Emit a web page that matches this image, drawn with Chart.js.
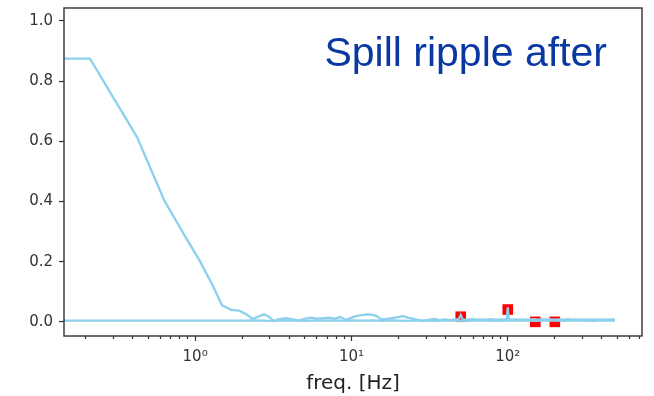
<!DOCTYPE html>
<html>
<head>
<meta charset="utf-8">
<script src="https://cdn.jsdelivr.net/npm/chart.js@4/dist/chart.umd.min.js"></script>
<style>
  html, body { margin: 0; padding: 0; background: #ffffff; }
  #wrap { width: 654px; height: 396px; }
</style>
</head>
<body>
<div id="wrap"><canvas id="c" width="654" height="396"></canvas></div>
<script>
// ---- data ----
const freqA = [0.1, 0.2125, 0.425, 0.6375, 0.85, 1.0625, 1.275, 1.4875, 1.7, 1.9125,
  2.125, 2.3375, 2.55, 2.7625, 2.975, 3.1875, 3.4, 3.8, 4.2, 4.6,
  5.0, 5.5, 6.0, 6.6, 7.2, 7.8, 8.5, 9.2, 10.0, 10.8,
  11.6, 12.5, 13.4, 14.4, 15.5, 16.8, 18.2, 19.8, 21.4, 23.0,
  25.0, 27.0, 29.0, 31.5, 34.0, 37.0, 40.0, 43.0, 46.0, 48.5,
  50.0, 51.5, 55.0, 59.0, 63.0, 68.0, 73.0, 78.0, 84.0, 90.0,
  95.0, 98.5, 100.0, 101.5, 106.0, 112.0, 120.0, 128.0, 136.0, 145.0,
  155.0, 165.0, 176.0, 188.0, 200.0, 213.0, 227.0, 242.0, 258.0, 275.0,
  293.0, 312.0, 333.0, 355.0, 378.0, 403.0, 430.0, 457.0, 485.0];
const ampA = [0.875, 0.875, 0.614, 0.402, 0.29, 0.206, 0.128, 0.055, 0.040, 0.037,
  0.025, 0.010, 0.018, 0.025, 0.017, 0.002, 0.008, 0.012, 0.008, 0.004,
  0.010, 0.014, 0.011, 0.012, 0.014, 0.011, 0.016, 0.006, 0.014, 0.020,
  0.022, 0.025, 0.024, 0.020, 0.009, 0.010, 0.012, 0.016, 0.019, 0.014,
  0.010, 0.006, 0.003, 0.007, 0.010, 0.006, 0.008, 0.006, 0.008, 0.009,
  0.023, 0.008, 0.007, 0.009, 0.007, 0.008, 0.007, 0.009, 0.007, 0.008,
  0.007, 0.009, 0.048, 0.009, 0.007, 0.008, 0.007, 0.008, 0.007, 0.009,
  0.007, 0.008, 0.007, 0.008, 0.007, 0.008, 0.007, 0.009, 0.007, 0.008,
  0.007, 0.008, 0.007, 0.008, 0.007, 0.008, 0.007, 0.008, 0.007];

const freqB = [0.1, 0.5, 1.0, 1.5, 2.0, 2.5, 3.0, 3.5, 4.0, 4.5,
  5.0, 6.0, 7.0, 8.0, 9.0, 10.0, 12.0, 14.0, 16.0, 18.0,
  20.0, 23.0, 26.0, 30.0, 35.0, 40.0, 45.0, 55.0, 65.0, 75.0,
  85.0, 110.0, 130.0, 150.0, 175.0, 200.0, 230.0, 260.0, 300.0, 350.0,
  400.0, 450.0, 485.0];
const ampB = [0.004, 0.004, 0.004, 0.004, 0.004, 0.005, 0.003, 0.005, 0.004, 0.005,
  0.003, 0.005, 0.004, 0.005, 0.003, 0.005, 0.004, 0.005, 0.003, 0.005,
  0.004, 0.003, 0.005, 0.004, 0.003, 0.005, 0.004, 0.003, 0.005, 0.004,
  0.003, 0.005, 0.004, 0.003, 0.005, 0.004, 0.003, 0.005, 0.004, 0.003,
  0.005, 0.004, 0.004];

const harmFreq = [50, 100, 150, 200];
const harmAmp = [0.017, 0.041, 0.0, 0.0];

const yTickValues = [0.0, 0.2, 0.4, 0.6, 0.8, 1.0];
const xMajorTicks = [1, 10, 100];
const xMajorLabels = ['10\u2070', '10\u00B9', '10\u00B2'];
const xDecades = [0.1, 1, 10, 100];
const xMultipliers = [1, 2, 3, 4, 5, 6, 7, 8, 9];

const titleText = 'Spill ripple after';
const xTitle = 'freq. [Hz]';

// ---- build ----
const X_MIN = 0.145, X_MAX = 722;
const Y_MIN = -0.047, Y_MAX = 1.043;

const toPts = (xs, ys) => xs.map((x, i) => ({ x: x, y: ys[i] }));
const xTickValues = [];
xDecades.forEach(d => xMultipliers.forEach(m => {
  const v = +(d * m).toPrecision(6);
  if (v >= X_MIN && v <= X_MAX) xTickValues.push(v);
}));
const isMajor = v => xMajorTicks.indexOf(v) >= 0;

const lineColor = '#8DD0EC';
const axisColor = '#333333';

const frame = {
  id: 'frame',
  afterDatasetsDraw(chart) {
    const a = chart.chartArea, ctx = chart.ctx;
    ctx.save();
    ctx.strokeStyle = axisColor;
    ctx.lineWidth = 1.4;
    ctx.strokeRect(a.left, a.top, a.right - a.left, a.bottom - a.top);
    ctx.restore();
  },
  afterDraw(chart) {
    const a = chart.chartArea, ctx = chart.ctx;
    ctx.save();
    ctx.fillStyle = '#0A38A3';
    ctx.font = '41px "Liberation Sans", Arial, sans-serif';
    ctx.textAlign = 'right';
    ctx.textBaseline = 'alphabetic';
    ctx.fillText(titleText, a.right - 35, a.top + 58);
    ctx.restore();
  }
};

new Chart(document.getElementById('c'), {
  type: 'scatter',
  data: {
    datasets: [
      {
        label: 'after',
        data: toPts(freqA, ampA),
        showLine: true,
        borderColor: lineColor,
        backgroundColor: lineColor,
        borderWidth: 2.3,
        pointRadius: 0,
        tension: 0,
        order: 0
      },
      {
        label: 'baseline',
        data: toPts(freqB, ampB),
        showLine: true,
        borderColor: lineColor,
        backgroundColor: lineColor,
        borderWidth: 2.3,
        pointRadius: 0,
        tension: 0,
        order: 0
      },
      {
        label: 'harmonics',
        data: toPts(harmFreq, harmAmp),
        showLine: false,
        pointStyle: 'rect',
        pointRadius: 7.5,
        pointBorderWidth: 0,
        backgroundColor: '#FF0000',
        borderColor: '#FF0000',
        order: 1
      }
    ]
  },
  options: {
    responsive: false,
    animation: false,
    devicePixelRatio: 1,
    layout: { padding: { top: 8, right: 12, left: 0, bottom: 0 } },
    plugins: {
      legend: { display: false },
      tooltip: { enabled: false },
      title: { display: false }
    },
    scales: {
      x: {
        type: 'logarithmic',
        position: 'bottom',
        min: X_MIN,
        max: X_MAX,
        afterBuildTicks(scale) {
          scale.ticks = xTickValues.map(v => ({ value: v, major: isMajor(v) }));
        },
        afterFit(scale) {
          scale.height = 60;
          scale.paddingLeft = 0;
          scale.paddingRight = 0;
        },
        border: { display: false },
        grid: {
          drawOnChartArea: false,
          drawTicks: true,
          tickLength: 5,
          tickColor: axisColor,
          tickWidth: 1.2,
          tickBorderDash: ctx => (ctx.tick && isMajor(ctx.tick.value)) ? [] : [3, 40]
        },
        ticks: {
          autoSkip: false,
          maxRotation: 0,
          padding: 7,
          color: '#333333',
          font: { family: '"DejaVu Sans", sans-serif', size: 15 },
          callback(value) {
            const i = xMajorTicks.indexOf(value);
            return i >= 0 ? xMajorLabels[i] : '';
          }
        },
        title: {
          display: true,
          text: xTitle,
          color: '#222222',
          font: { family: '"DejaVu Sans", sans-serif', size: 20 },
          padding: 0
        }
      },
      y: {
        type: 'linear',
        position: 'left',
        min: Y_MIN,
        max: Y_MAX,
        afterBuildTicks(scale) {
          scale.ticks = yTickValues.map(v => ({ value: v }));
        },
        afterFit(scale) {
          scale.width = 64;
          scale.paddingTop = 0;
          scale.paddingBottom = 0;
        },
        border: { display: false },
        grid: {
          drawOnChartArea: false,
          drawTicks: true,
          tickLength: 5,
          tickColor: axisColor,
          tickWidth: 1.2
        },
        ticks: {
          padding: 6,
          color: '#333333',
          font: { family: '"DejaVu Sans", sans-serif', size: 15 },
          callback(value) { return Number(value).toFixed(1); }
        }
      }
    }
  },
  plugins: [frame]
});
</script>
</body>
</html>
